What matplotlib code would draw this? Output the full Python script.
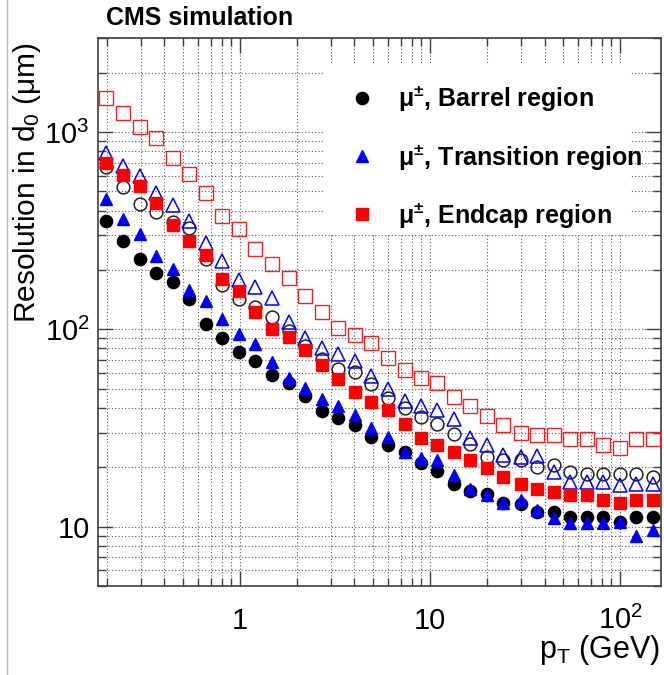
import matplotlib
matplotlib.use("Agg")
import matplotlib.pyplot as plt
from matplotlib.ticker import FixedLocator, LogLocator, NullFormatter, FixedFormatter
from matplotlib.patches import Rectangle
from matplotlib.lines import Line2D

plt.rcParams['font.family'] = ['Liberation Sans', 'DejaVu Sans']
plt.rcParams['mathtext.fontset'] = 'custom'
plt.rcParams['mathtext.rm'] = 'Liberation Sans'
plt.rcParams['mathtext.it'] = 'Liberation Sans:italic'
plt.rcParams['mathtext.bf'] = 'Liberation Sans:bold'
plt.rcParams['mathtext.default'] = 'regular'

# ---- data ----
pt = [0.198, 0.242, 0.297, 0.363, 0.442, 0.542, 0.663, 0.806, 0.99, 1.20,
      1.48, 1.81, 2.20, 2.70, 3.28, 4.03, 4.89, 5.98, 7.35, 8.93,
      10.9, 13.4, 16.3, 20.0, 24.3, 29.9, 36.7, 44.6, 54.5, 66.6,
      81.4, 99.5, 121, 149]

barrel_filled = [355, 282, 228, 192, 174, 143, 106, 90, 77, 69,
                 59, 53.5, 46, 38.5, 35.5, 32.7, 28.6, 25.8, 24.0, 20.9,
                 19.2, 16.4, 15.2, 14.6, 13.1, 13.0, 11.8, 11.8, 11.2, 11.2,
                 11.2, 10.5, 11.2, 11.2]
barrel_open = [668, 525, 432, 395, 349, 325, 227, 168, 143, 130,
               116, 98, 82, 71, 63, 61, 53, 45, 40, 36,
               33.3, 29.4, 26.3, 22.6, 21.8, 21.8, 20.1, 20.5, 19.0, 18.5,
               18.5, 18.5, 18.5, 17.9]
trans_filled = [460, 362, 306, 236, 203, 159, 139, 113, 94.5, 84,
                68.5, 57, 50.5, 44.3, 41, 37, 31.6, 28.6, 23.8, 22.2,
                21.7, 18.3, 15.5, 14.5, 13.2, 13.6, 12.1, 11.0, 10.4, 10.4,
                10.4, 10.5, 8.97, 9.6]
trans_open = [784, 676, 602, 490, 429, 356, 273, 221, 178, 164,
              145, 109, 90, 80, 75, 69.5, 58, 50, 43.5, 40.7,
              39, 35, 28.3, 25.8, 23.2, 22.5, 22.7, 19.0, 16.9, 16.9,
              16.9, 16.3, 16.4, 16.4]
endcap_filled = [698, 606, 532, 435, 340, 280, 237, 181, 156, 123,
                 101, 92, 78.5, 66, 56, 48, 43, 38.8, 33.2, 28,
                 26, 24, 21.8, 19.9, 17.9, 16.5, 15.6, 14.9, 14.4, 14.4,
                 13.7, 13.1, 13.7, 13.7]
endcap_open = [1484, 1247, 1062, 934, 742, 615, 489, 376, 321, 257,
               214, 182, 147, 123, 102, 94, 85, 72, 62, 56.5,
               53.5, 45.5, 41, 36.5, 32.8, 30, 29.2, 29.2, 27.8, 27.8,
               25.9, 25.1, 27.8, 27.8]

legend_labels = [r'$\mu^{\pm}$, Barrel region',
                 r'$\mu^{\pm}$, Transition region',
                 r'$\mu^{\pm}$, Endcap region']

x_ticks = [1, 10, 100]
x_ticklabels = ['1', '10', r'$10^{2}$']
y_ticks = [10, 100, 1000]
y_ticklabels = ['10', r'$10^{2}$', r'$10^{3}$']

BLUE = '#0000ff'
RED = '#ff0000'

fig = plt.figure(figsize=(6.64, 6.75), dpi=100)
ax = fig.add_axes([98/664, 89/675, 563/664, 548/675])
ax.set_xscale('log')
ax.set_yscale('log')
ax.set_xlim(0.179, 164)
ax.set_ylim(5, 3000)
ax.set_axisbelow(True)

# grid
ax.grid(True, which='both', axis='both', linestyle=(0, (1, 2)),
        linewidth=0.8, color='0.35')

# white legend background covering the grid
ax.add_patch(Rectangle((0.403, 0.641), 0.542, 0.313, transform=ax.transAxes,
                       facecolor='white', edgecolor='none', zorder=1))

# series
ax.plot(pt, barrel_open, linestyle='none', marker='o', ms=9.2, mfc='none',
        mec='#222222', mew=1.1, zorder=2)
h_bar, = ax.plot(pt, barrel_filled, linestyle='none', marker='o', ms=8.8,
                 color='black', zorder=3)
ax.plot(pt, trans_open, linestyle='none', marker='^', ms=9.4, mfc='none',
        mec=BLUE, mew=1.1, zorder=4)
h_tr, = ax.plot(pt, trans_filled, linestyle='none', marker='^', ms=9.2,
                color=BLUE, zorder=5)
ax.plot(pt, endcap_open, linestyle='none', marker='s', ms=9.4, mfc='none',
        mec='#ee2222', mew=1.0, zorder=6)
h_ec, = ax.plot(pt, endcap_filled, linestyle='none', marker='s', ms=8.4,
                color=RED, zorder=7)

# ticks
ax.xaxis.set_major_locator(FixedLocator(x_ticks))
ax.xaxis.set_major_formatter(FixedFormatter(x_ticklabels))
ax.xaxis.set_minor_locator(LogLocator(base=10, subs=range(2, 10), numticks=20))
ax.xaxis.set_minor_formatter(NullFormatter())
ax.yaxis.set_major_locator(FixedLocator(y_ticks))
ax.yaxis.set_major_formatter(FixedFormatter(y_ticklabels))
ax.yaxis.set_minor_locator(LogLocator(base=10, subs=range(2, 10), numticks=20))
ax.yaxis.set_minor_formatter(NullFormatter())

ax.tick_params(which='both', direction='in', top=True, right=True,
               color='0.25', width=1.0)
ax.tick_params(which='major', length=11, labelsize=21)
ax.tick_params(which='minor', length=5.5)
ax.tick_params(axis='y', which='major', pad=6)
ax.tick_params(axis='x', which='major', pad=31)
for t in ax.xaxis.get_major_ticks():
    t.label1.set_verticalalignment('baseline')

for s in ax.spines.values():
    s.set_linewidth(1.2)
    s.set_color('0.25')

# legend
ax.legend([h_bar, h_tr, h_ec], legend_labels, loc='upper left',
          bbox_to_anchor=(0.4465, 0.917), frameon=False,
          prop={'weight': 'bold', 'size': 18}, handlelength=1.0,
          handletextpad=0.95, labelspacing=1.13, borderpad=0,
          borderaxespad=0, numpoints=1)

# texts
fig.text(106/664, 1 - 18/675, 'CMS simulation', fontsize=18,
         fontweight='bold', ha='left', va='center')
fig.text(27/664, 1 - 183/675, r'Resolution in d$_0$ (μm)', fontsize=21.5,
         rotation=90, ha='center', va='center')
fig.text(660/664, 1 - 658/675, r'p$_T$ (GeV)', fontsize=22,
         ha='right', va='baseline')

fig.add_artist(Line2D([7/664, 7/664], [0, 1], transform=fig.transFigure,
                      color='#bbbbbb', linewidth=1.0))

fig.savefig('out.png', dpi=100)
